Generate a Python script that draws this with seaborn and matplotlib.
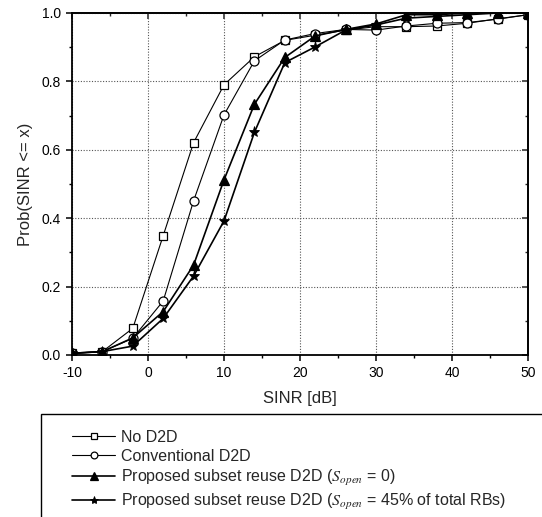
import matplotlib
matplotlib.use("Agg")
import matplotlib.pyplot as plt
import seaborn as sns
import pandas as pd
from matplotlib.patches import Rectangle
from matplotlib.ticker import MultipleLocator, FormatStrFormatter

sinr_db = [-10, -6, -2, 2, 6, 10, 14, 18, 22, 26, 30, 34, 38, 42, 46, 50]
no_d2d = [0.005, 0.01, 0.078, 0.349, 0.621, 0.790, 0.872, 0.920, 0.935, 0.950, 0.960, 0.960, 0.962, 0.970, 0.983, 0.995]
conventional = [0.005, 0.01, 0.049, 0.158, 0.451, 0.702, 0.860, 0.921, 0.940, 0.952, 0.950, 0.962, 0.970, 0.972, 0.982, 0.995]
subset_0 = [0.005, 0.01, 0.050, 0.127, 0.263, 0.512, 0.733, 0.870, 0.933, 0.952, 0.968, 0.995, 0.995, 1.0, 1.0, 1.0]
subset_45 = [0.005, 0.01, 0.026, 0.107, 0.231, 0.392, 0.651, 0.855, 0.901, 0.950, 0.965, 0.985, 0.990, 0.995, 1.0, 1.0]

labels = [
    "No D2D",
    "Conventional D2D",
    r"Proposed subset reuse D2D ($S_{open}$ = 0)",
    r"Proposed subset reuse D2D ($S_{open}$ = 45% of total RBs)",
]

sns.set_style("white")
plt.rcParams["font.family"] = ["Liberation Sans", "DejaVu Sans"]
plt.rcParams["mathtext.fontset"] = "stix"
plt.rcParams["axes.unicode_minus"] = False

fig = plt.figure(figsize=(5.42, 5.17), dpi=100)
ax = fig.add_axes([72 / 542, 1 - 355 / 517, (528 - 72) / 542, (355 - 13) / 517])

series = [no_d2d, conventional, subset_0, subset_45]
styles = [
    dict(marker="s", mfc="white", mec="black", ms=6, lw=0.8, mew=0.9),
    dict(marker="o", mfc="white", mec="black", ms=6.5, lw=0.8, mew=0.9),
    dict(marker="^", mfc="black", mec="black", ms=7, lw=1.2, mew=0.9),
    dict(marker="*", mfc="black", mec="black", ms=8, lw=1.2, mew=0.6),
]
for vals, lab, st in zip(series, labels, styles):
    df = pd.DataFrame({"x": sinr_db, "y": vals})
    sns.lineplot(data=df, x="x", y="y", ax=ax, color="black", label=lab,
                 linewidth=st["lw"], marker=st["marker"], markerfacecolor=st["mfc"],
                 markeredgecolor=st["mec"], markersize=st["ms"], markeredgewidth=st["mew"])

ax.set_xlim(-10, 50)
ax.set_ylim(0, 1.0)
ax.xaxis.set_major_locator(MultipleLocator(10))
ax.xaxis.set_minor_locator(MultipleLocator(5))
ax.yaxis.set_major_locator(MultipleLocator(0.2))
ax.yaxis.set_minor_locator(MultipleLocator(0.1))
ax.yaxis.set_major_formatter(FormatStrFormatter("%.1f"))
ax.grid(True, which="major", linestyle=(0, (1, 1.5)), color="#555555", linewidth=0.8)
for s in ax.spines.values():
    s.set_color("black")
    s.set_linewidth(1.3)
ax.tick_params(which="both", direction="out", bottom=True, left=True, top=False, right=False,
               labelsize=10, colors="black")
ax.tick_params(which="major", length=4.5, width=1.1)
ax.tick_params(which="minor", length=2.5, width=1.0)

secx = ax.secondary_xaxis("top")
secx.xaxis.set_major_locator(MultipleLocator(10))
secx.xaxis.set_minor_locator(MultipleLocator(5))
secx.tick_params(which="both", direction="in", labeltop=False)
secx.tick_params(which="major", length=4.5, width=1.1)
secx.tick_params(which="minor", length=2.5, width=1.0)
secx.spines["top"].set_linewidth(1.3)
secy = ax.secondary_yaxis("right")
secy.yaxis.set_major_locator(MultipleLocator(0.2))
secy.yaxis.set_minor_locator(MultipleLocator(0.1))
secy.tick_params(which="both", direction="in", labelright=False)
secy.tick_params(which="major", length=4.5, width=1.1)
secy.tick_params(which="minor", length=2.5, width=1.0)
secy.spines["right"].set_linewidth(1.3)

ax.set_xlabel("SINR [dB]", fontsize=12, labelpad=8)
ax.set_ylabel("Prob(SINR <= x)", fontsize=12, labelpad=6)

handles, labs = ax.get_legend_handles_labels()
if ax.legend_:
    ax.legend_.remove()
fig.legend(handles, labs, loc="upper left", bbox_to_anchor=(72 / 542, 1 - 430 / 517),
           frameon=False, fontsize=11.5, borderpad=0, borderaxespad=0, markerscale=0.75,
           handlelength=2.7, handletextpad=0.35, labelspacing=0.25)

rect = Rectangle((41 / 542, -0.05), 1.0, 0.05 + (517 - 414) / 517, transform=fig.transFigure,
                 fill=False, edgecolor="black", linewidth=1.0, clip_on=False)
fig.patches.append(rect)

fig.savefig("out.png", dpi=100)
